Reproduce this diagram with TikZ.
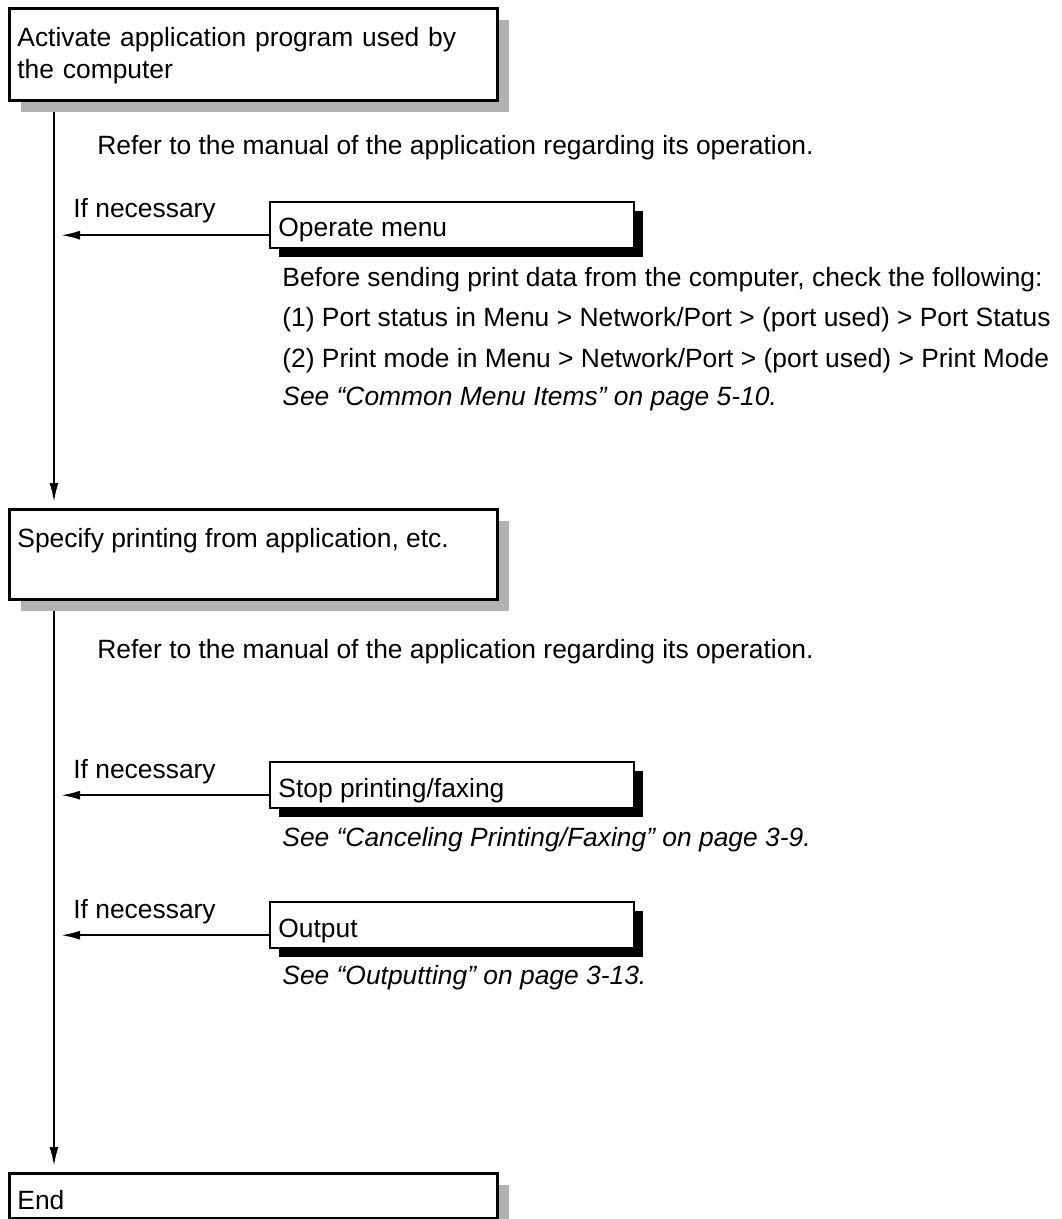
\documentclass[tikz,border=0pt]{standalone}
\usepackage{fontspec}
\setmainfont{Liberation Sans}
\usetikzlibrary{calc,positioning,arrows.meta,shadows,backgrounds}
\newcommand{\flowarrowstyle}{-{Latex[length=9.5pt,width=4.5pt]}}

\begin{document}
\begin{tikzpicture}[
    x=0.5pt, y=-0.5pt,
    font=\fontsize{13.2}{16}\selectfont,
    flow/.style={\flowarrowstyle, line width=1pt},
    stepbox/.style={draw, line width=1.3pt, fill=white, inner sep=0pt, anchor=north west, minimum width=244pt,
      drop shadow={shadow xshift=6pt, shadow yshift=-6pt, fill=black!30, opacity=1}},
    subbox/.style={draw, line width=1.2pt, fill=white, inner sep=0pt, anchor=north west, minimum width=182pt, minimum height=23pt,
      drop shadow={shadow xshift=4.5pt, shadow yshift=-4.5pt, fill=black, opacity=1}},
    txt/.style={anchor=base west, inner sep=0pt},
    note/.style={txt, font=\fontsize{13.2}{16}\selectfont\itshape}
]
  \useasboundingbox (0,0) rectangle (1061,1219);
  \coordinate (trunk) at (54,0);

  % main steps
  \node[stepbox, minimum height=46pt] (act) at (8,7) {};
  \node[txt, text width=236pt, align=left] (acttext) at ($(act.north west)+(9,40)$) {Activate application program used by\\the computer};
  \node[stepbox, minimum height=45pt] (spec) at (8,508) {};
  \node[txt] (spectext) at ($(spec.north west)+(9,39)$) {Specify printing from application, etc.};
  \node[stepbox, minimum height=22.5pt] (endbox) at (8,1172) {};
  \node[txt] (endtext) at ($(endbox.north west)+(9,37)$) {End};

  % side steps
  \node[subbox] (opmenu) at (269,201) {};
  \node[txt] (optext) at ($(opmenu.north west)+(9,36)$) {Operate menu};
  \node[subbox] (stopbox) at (269,761) {};
  \node[txt] (stoptext) at ($(stopbox.north west)+(9,36)$) {Stop printing/faxing};
  \node[subbox] (outbox) at (269,901) {};
  \node[txt] (outtext) at ($(outbox.north west)+(9,36)$) {Output};

  \node[txt] (ifnec1) at (73,218) {If necessary};
  \node[txt] (ifnec2) at (73,778) {If necessary};
  \node[txt] (ifnec3) at (73,918) {If necessary};

  % notes
  \node[txt] (refer1) at (97,155) {Refer to the manual of the application regarding its operation.};
  \node[txt] (opnote0) at (282,287) {Before sending print data from the computer, check the following:};
  \node[txt] (opnote1) at (282,327) {(1) Port status in Menu > Network/Port > (port used) > Port Status};
  \node[txt] (opnote2) at (282,367) {(2) Print mode in Menu > Network/Port > (port used) > Print Mode};
  \node[note] (opsee) at (282,405) {See “Common Menu Items” on page 5-10.};
  \node[txt] (refer2) at (97,658) {Refer to the manual of the application regarding its operation.};
  \node[note] (stopsee) at (282,846) {See “Canceling Printing/Faxing” on page 3-9.};
  \node[note] (outsee) at (282,984) {See “Outputting” on page 3-13.};

  % connectors
  \begin{scope}[on background layer]
    \draw[flow, shorten >=3pt] (act.south -| trunk) -- (spec.north -| trunk);
    \draw[flow, shorten >=3pt] (spec.south -| trunk) -- (endbox.north -| trunk);
  \end{scope}
  \draw[flow, shorten >=3.5pt] ($(opmenu.west)+(0,10)$) -- ($(opmenu.west -| trunk)+(0,10)$);
  \draw[flow, shorten >=3.5pt] ($(stopbox.west)+(0,10)$) -- ($(stopbox.west -| trunk)+(0,10)$);
  \draw[flow, shorten >=3.5pt] ($(outbox.west)+(0,10)$) -- ($(outbox.west -| trunk)+(0,10)$);
\end{tikzpicture}
\end{document}
